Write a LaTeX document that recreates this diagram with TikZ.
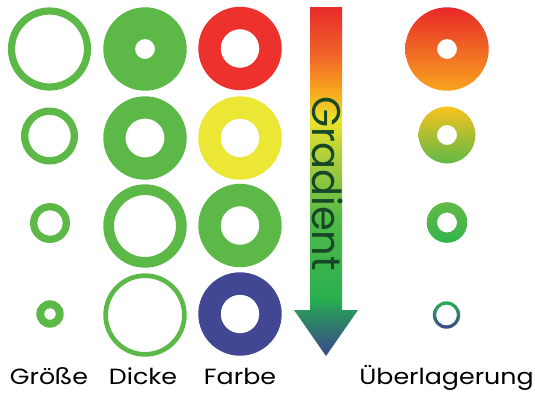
\documentclass[tikz,border=0pt]{standalone}
\usepackage{fontspec}
\setmainfont{Poppins}
\usetikzlibrary{calc}

% ring colours
\definecolor{ringgreen}{RGB}{93,185,71}
\definecolor{ringred}{RGB}{237,49,44}
\definecolor{ringyellow}{RGB}{236,230,52}
\definecolor{ringblue}{RGB}{66,71,148}
\definecolor{gradtext}{RGB}{22,72,40}

% colour ramps (positions in bp, bottom of path = 25bp, top = 75bp)
\pgfdeclareverticalshading{arrowramp}{100bp}{%
  color(0bp)=(rgb,255:red,60;green,70;blue,140);
  color(25bp)=(rgb,255:red,60;green,70;blue,140);
  color(31.6bp)=(rgb,255:red,42;green,150;blue,92);
  color(33bp)=(rgb,255:red,40;green,175;blue,80);
  color(44.5bp)=(rgb,255:red,80;green,185;blue,70);
  color(53.1bp)=(rgb,255:red,170;green,205;blue,60);
  color(58.8bp)=(rgb,255:red,236;green,226;blue,42);
  color(63.1bp)=(rgb,255:red,248;green,165;blue,30);
  color(68.1bp)=(rgb,255:red,240;green,100;blue,40);
  color(75bp)=(rgb,255:red,232;green,43;blue,43);
  color(100bp)=(rgb,255:red,232;green,43;blue,43)}

\newcommand{\donut}[4]{% centre, outer radius, inner radius, fill options
  \fill[#4,even odd rule] (#1) circle[radius=#2] circle[radius=#3];}

\tikzset{
  caption/.style={anchor=base,inner sep=0pt,xscale=1.15,
    font=\fontsize{22}{26}\selectfont,text=black},
}

\begin{document}
\begin{tikzpicture}[x=1pt,y=-1pt]
\useasboundingbox[fill=white] (0,0) rectangle (535,392);

% column "Größe": shrinking ring of constant width
\donut{49.5,49}{41.6}{34.4}{ringgreen}
\donut{49.5,136}{28.5}{21.2}{ringgreen}
\donut{50,223}{20}{12.8}{ringgreen}
\donut{50,314}{13.7}{5.8}{ringgreen}

% column "Dicke": constant size, thinner ring
\donut{145,49}{41.7}{10}{ringgreen}
\donut{145,138}{41.7}{19.5}{ringgreen}
\donut{145,226}{41.7}{31}{ringgreen}
\donut{145,315}{41.7}{37}{ringgreen}

% column "Farbe": constant shape, changing hue
\donut{240,48.5}{41.7}{19.3}{ringred}
\donut{240,138}{41.7}{19.3}{ringyellow}
\donut{240,225.5}{41.7}{19.3}{ringgreen}
\donut{240,314}{41.7}{19.3}{ringblue}

% gradient arrow
\coordinate (shaftL) at (310,7);
\coordinate (shaftR) at (342,7);
\coordinate (tip) at (326,356);
\shade[shading=arrowramp]
  (shaftL) -- (shaftR) -- (342,310) -- (358,310) -- (tip)
  -- (294,310) -- (310,310) -- cycle;
\node[rotate=-90,anchor=base west,inner sep=0pt,text=gradtext,
      font=\fontsize{40}{44}\selectfont] (gradlabel) at (312,96) {Gradient};

% column "Überlagerung": all variables combined
\shade[even odd rule,top color={rgb,255:red,232;green,40;blue,40},
       bottom color={rgb,255:red,248;green,165;blue,32}]
  (447,49) circle[radius=41.7] circle[radius=10];
\shade[even odd rule,top color={rgb,255:red,248;green,195;blue,30},
       middle color={rgb,255:red,190;green,210;blue,55},
       bottom color={rgb,255:red,95;green,185;blue,70}]
  (447,135) circle[radius=28.4] circle[radius=10];
\shade[even odd rule,top color={rgb,255:red,100;green,186;blue,70},
       bottom color={rgb,255:red,50;green,180;blue,75}]
  (447,222.5) circle[radius=20.3] circle[radius=10];
\shade[even odd rule,top color={rgb,255:red,40;green,175;blue,80},
       bottom color={rgb,255:red,60;green,70;blue,140}]
  (446.5,315) circle[radius=13.7] circle[radius=10.4];

% captions
\node[caption] (lsize)  at (49,384)  {Größe};
\node[caption] (lwidth) at (143,384) {Dicke};
\node[caption] (lcolor) at (240,384) {Farbe};
\node[caption] (lmix)   at (446.5,384) {Überlagerung};
\end{tikzpicture}
\end{document}
